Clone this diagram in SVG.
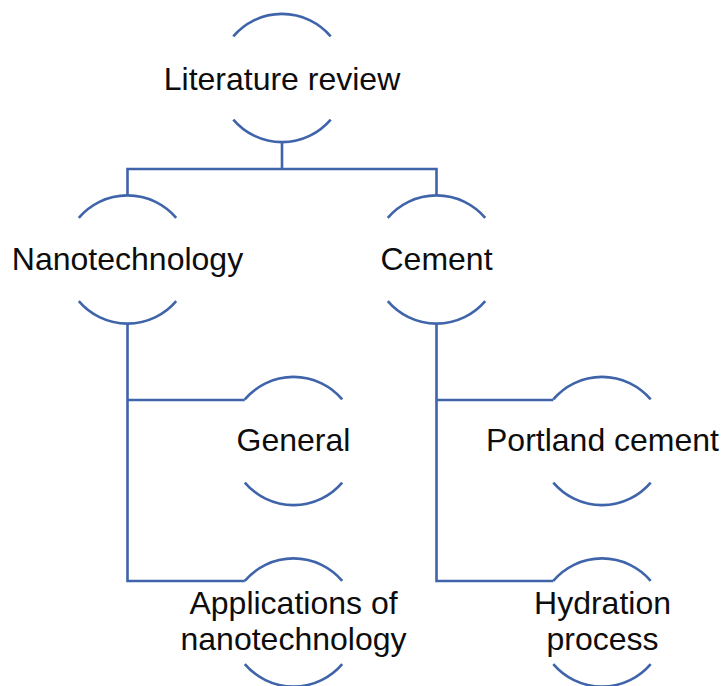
<svg xmlns="http://www.w3.org/2000/svg" width="723" height="686" viewBox="0 0 723 686">
  <style>
    .ring { fill: none; stroke: #3F64AA; stroke-width: 2.6; }
    .link { fill: none; stroke: #3F64AA; stroke-width: 2.6; stroke-linejoin: miter; }
    .label { font-family: "Liberation Sans", Arial, sans-serif; font-size: 32px; fill: #0d0d0d; text-anchor: middle; }
  </style>
  <rect width="723" height="686" fill="#ffffff"/>

  <!-- hierarchy connectors -->
  <g id="connectors">
    <path class="link" d="M282,142 V169 M127.5,195.5 V169 H436.5 V195.5"/>
    <path class="link" d="M127.5,323.5 V581 H244.8 M127.5,400 H244.8"/>
    <path class="link" d="M436.5,323.5 V581 H553.3 M436.5,400 H553.3"/>
  </g>

  <!-- each node: a circle drawn as a top and bottom arc, label in the gap -->
  <g id="node-literature-review">
    <path class="ring" d="M233.3,36.4 A64,64 0 0 1 330.7,36.4 M233.3,119.6 A64,64 0 0 0 330.7,119.6"/>
    <text class="label" x="282" y="89.5">Literature review</text>
  </g>

  <g id="node-nanotechnology">
    <path class="ring" d="M78.8,217.9 A64,64 0 0 1 176.2,217.9 M78.8,301.1 A64,64 0 0 0 176.2,301.1"/>
    <text class="label" x="127.5" y="270">Nanotechnology</text>
  </g>

  <g id="node-cement">
    <path class="ring" d="M387.8,217.9 A64,64 0 0 1 485.2,217.9 M387.8,301.1 A64,64 0 0 0 485.2,301.1"/>
    <text class="label" x="436.5" y="270">Cement</text>
  </g>

  <g id="node-general">
    <path class="ring" d="M244.8,399.4 A64,64 0 0 1 342.2,399.4 M244.8,482.6 A64,64 0 0 0 342.2,482.6"/>
    <text class="label" x="293.5" y="451">General</text>
  </g>

  <g id="node-applications">
    <path class="ring" d="M244.8,580.9 A64,64 0 0 1 342.2,580.9 M244.8,664.1 A64,64 0 0 0 342.2,664.1"/>
    <text class="label" x="293.5" y="613.5">Applications of</text>
    <text class="label" x="293.5" y="650">nanotechnology</text>
  </g>

  <g id="node-portland-cement">
    <path class="ring" d="M553.3,399.4 A64,64 0 0 1 650.7,399.4 M553.3,482.6 A64,64 0 0 0 650.7,482.6"/>
    <text class="label" x="602.5" y="451">Portland cement</text>
  </g>

  <g id="node-hydration">
    <path class="ring" d="M553.3,580.9 A64,64 0 0 1 650.7,580.9 M553.3,664.1 A64,64 0 0 0 650.7,664.1"/>
    <text class="label" x="602.5" y="613.5">Hydration</text>
    <text class="label" x="602.5" y="650">process</text>
  </g>
</svg>
